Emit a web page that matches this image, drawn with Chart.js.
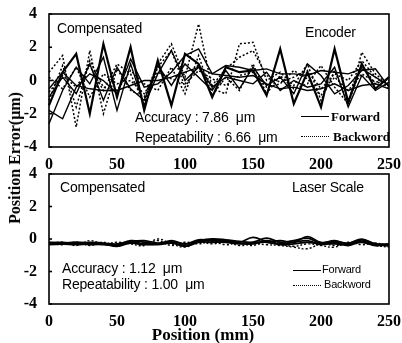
<!DOCTYPE html>
<html>
<head>
<meta charset="utf-8">
<script src="https://cdn.jsdelivr.net/npm/chart.js"></script>
<style>
  html, body { margin: 0; padding: 0; background: #fff; }
  #wrap { position: relative; width: 402px; height: 343px; overflow: hidden; background: #fff; }
  canvas { position: absolute; left: 0; }
  .t { position: absolute; white-space: nowrap; color: #000; line-height: 1; }
  .sans { font-family: "Liberation Sans", Arial, sans-serif; font-size: 14px; letter-spacing: -0.2px; }
  .serif { font-family: "Liberation Serif", "Times New Roman", serif; font-weight: bold; }
  .leg { position: absolute; height: 0; border-top: 1.5px solid #000; }
  .leg.dot { border-top: 1.5px dotted #000; }
</style>
</head>
<body>
<div id="wrap">
  <canvas id="encoder" width="402" height="172" style="top:0"></canvas>
  <canvas id="laser" width="402" height="183" style="top:160px"></canvas>

  <div class="t serif" style="font-size:16px; left:15px; top:158px; transform: translate(-50%,-50%) rotate(-90deg);">Position Error(μm)</div>
  <div class="t serif" style="font-size:17px; left:203px; top:334px; transform: translate(-50%,-50%);">Position (mm)</div>

  <!-- top panel annotations -->
  <div class="t sans" style="left:57px; top:21px;">Compensated</div>
  <div class="t sans" style="left:305px; top:25px;">Encoder</div>
  <div class="t sans" style="left:135px; top:110px;">Accuracy : 7.86&nbsp; μm</div>
  <div class="t sans" style="left:135px; top:130px;">Repeatability : 6.66&nbsp; μm</div>
  <div class="leg" style="left:301px; top:116px; width:28px;"></div>
  <div class="t serif" style="font-size:13px; left:331px; top:110px;">Forward</div>
  <div class="leg dot" style="left:301px; top:136px; width:28px;"></div>
  <div class="t serif" style="font-size:13px; left:333px; top:130px;">Backword</div>

  <!-- bottom panel annotations -->
  <div class="t sans" style="left:60px; top:180px;">Compensated</div>
  <div class="t sans" style="left:292px; top:180px;">Laser Scale</div>
  <div class="t sans" style="left:62px; top:261px;">Accuracy : 1.12&nbsp; μm</div>
  <div class="t sans" style="left:62px; top:277px;">Repeatability : 1.00&nbsp; μm</div>
  <div class="leg" style="left:293px; top:270px; width:28px;"></div>
  <div class="t sans" style="font-size:11px; left:322px; top:264px;">Forward</div>
  <div class="leg dot" style="left:293px; top:285px; width:28px;"></div>
  <div class="t sans" style="font-size:11px; left:324px; top:279px;">Backword</div>
</div>

<script>
// positions along the travel, mm
const positions = [0, 10, 20, 30, 40, 50, 60, 70, 80, 90, 100, 110, 120, 130, 140, 150, 160, 170, 180, 190, 200, 210, 220, 230, 240, 250];
const xTicks = [0, 50, 100, 150, 200, 250];
const yTicks = [-4, -2, 0, 2, 4];

// encoder-based feedback, error in um
const encF1 = [-1.5, 0.5, 1.6, -2.0, 2.2, -1.0, 2.0, -1.8, 1.2, -1.5, 1.6, 1.0, -1.0, 0.8, 0.5, 0.6, -0.9, 1.9, -1.4, 0.5, -1.6, 1.9, -1.3, 1.0, -0.5, 0.2];
const encF2 = [-1.8, -2.3, -0.4, 0.4, 0.0, -0.8, 1.3, -0.4, -0.2, 0.5, 1.5, 1.9, 0.4, 0.9, 0.8, 0.6, 0.7, 0.4, 0.4, 0.3, 0.6, 0.5, 0.4, 0.7, 0.2, -0.3];
const encF3 = [-0.5, 0.5, -0.3, -0.5, -0.6, -0.6, -0.3, 0.0, 0.0, 0.2, 0.5, 0.8, 0.4, 0.3, 0.2, 0.3, -0.2, -0.5, -0.4, -0.6, -0.5, -0.2, -0.6, -0.3, -0.2, -0.5];
const encF4 = [-1.0, 0.2, -0.8, 1.0, -1.2, 0.8, -0.5, -1.2, 0.9, -0.3, 1.0, 0.2, -0.6, 0.6, -0.5, 0.8, -0.3, 0.2, -0.8, 1.0, 0.3, -0.8, -0.3, 0.6, 0.7, -0.4];
const encF5 = [-2.6, -0.6, 0.8, -0.2, 1.4, -1.8, 1.0, -1.5, 0.4, 1.8, 0.0, 0.8, -0.4, 0.2, 0.0, -0.2, 0.5, -0.6, 0.0, -0.4, -0.2, 0.8, -1.6, 0.3, -0.6, -0.1];
const encB1 = [0.5, 1.5, -2.8, 1.8, -2.0, 0.7, -0.6, -1.0, 1.0, 2.2, 0.2, 3.4, -0.5, -0.8, 2.2, 2.3, 0.0, 0.5, -0.3, 1.0, -1.2, 0.6, -1.4, 1.7, 0.4, -0.3];
const encB2 = [0.2, -0.5, 0.8, -1.0, 0.4, -0.2, 0.0, -0.8, 0.5, 0.1, -0.2, 0.6, 0.1, -0.3, 0.3, 0.5, -0.4, -0.2, 0.6, 0.1, -0.9, 0.2, -0.6, 0.4, -0.1, 0.0];
const encB3 = [-0.7, 0.3, -0.4, 0.9, -0.6, 1.0, 0.4, -1.4, 0.8, 1.8, -0.4, 1.0, -0.3, 0.7, 1.4, 1.8, 0.3, -0.1, 0.2, 0.6, -0.5, 0.4, 0.0, 1.2, 0.2, -0.5];
const encB4 = [-1.2, 0.9, -1.6, 1.2, -0.4, -0.6, 0.6, -0.2, -0.6, 0.8, -0.8, 1.5, -0.9, 0.2, -0.6, 1.0, -0.8, 0.3, -0.5, -0.2, 0.9, -0.4, -1.4, 0.9, -0.2, 0.1];

// laser-scale feedback, error in um
const lasF1 = [-0.2, -0.25, -0.2, -0.25, -0.3, -0.35, -0.1, -0.2, -0.3, -0.1, -0.3, -0.1, 0.0, -0.05, -0.15, -0.2, 0.05, -0.2, -0.1, 0.05, -0.25, -0.1, -0.3, -0.05, -0.3, -0.3];
const lasF2 = [-0.3, -0.3, -0.35, -0.3, -0.35, -0.4, -0.2, -0.3, -0.35, -0.25, -0.4, -0.15, -0.1, -0.15, -0.25, -0.3, -0.1, -0.3, -0.2, -0.1, -0.35, -0.2, -0.4, -0.15, -0.35, -0.4];
const lasF3 = [-0.25, -0.2, -0.3, -0.2, -0.25, -0.3, -0.15, -0.1, -0.25, -0.15, -0.3, -0.05, -0.1, -0.1, -0.2, 0.1, -0.15, -0.1, -0.2, 0.15, -0.2, -0.15, -0.25, 0.0, -0.3, -0.35];
const lasF4 = [-0.35, -0.3, -0.25, -0.35, -0.3, -0.45, -0.25, -0.35, -0.3, -0.2, -0.45, -0.2, -0.2, -0.2, -0.3, -0.25, -0.2, -0.35, -0.3, -0.2, -0.3, -0.3, -0.35, -0.2, -0.4, -0.35];
const lasB1 = [-0.3, -0.2, -0.4, -0.1, -0.3, -0.2, -0.3, -0.4, 0.0, -0.3, -0.5, -0.2, -0.3, -0.2, -0.4, -0.3, -0.35, -0.4, -0.5, -0.6, -0.3, -0.4, -0.3, -0.2, -0.4, -0.5];
const lasB2 = [-0.25, -0.35, -0.2, -0.4, -0.2, -0.45, -0.1, -0.3, -0.1, -0.4, -0.2, -0.3, -0.15, -0.35, -0.2, -0.4, -0.1, -0.3, -0.45, -0.3, -0.4, -0.5, -0.2, -0.35, -0.25, -0.45];

function toPoints(values) {
    return values.map((v, i) => ({ x: positions[i], y: v }));
}

function lineSet(values, dotted, width, tension) {
    return {
        data: toPoints(values),
        borderColor: "#000",
        borderWidth: width,
        borderDash: dotted ? [2, 2] : [],
        pointRadius: 0,
        tension: tension,
        fill: false
    };
}

// frame around the plot area
const framePlugin = {
    id: "frame",
    afterDraw(chart) {
        const a = chart.chartArea;
        const ctx = chart.ctx;
        ctx.save();
        ctx.strokeStyle = "#000";
        ctx.lineWidth = 1.6;
        ctx.strokeRect(a.left, a.top, a.right - a.left, a.bottom - a.top);
        // small inward ticks on the left axis
        const ys = chart.scales.y;
        yTicks.forEach(v => {
            const py = ys.getPixelForValue(v);
            ctx.beginPath();
            ctx.moveTo(a.left, py);
            ctx.lineTo(a.left + 3, py);
            ctx.stroke();
        });
        ctx.restore();
    }
};

function makePanel(canvasId, datasets, plotBottom, canvasHeight) {
    const tickFont = { family: "'Liberation Serif', 'Times New Roman', serif", size: 16, weight: "bold" };
    return new Chart(document.getElementById(canvasId), {
        type: "line",
        data: { datasets: datasets },
        plugins: [framePlugin],
        options: {
            responsive: false,
            animation: false,
            clip: false,
            layout: { autoPadding: false, padding: { top: 14, right: 13, left: 0, bottom: 0 } },
            plugins: { legend: { display: false }, tooltip: { enabled: false } },
            scales: {
                x: {
                    type: "linear",
                    min: 0,
                    max: 250,
                    afterBuildTicks: (s) => { s.ticks = xTicks.map(v => ({ value: v })); },
                    afterFit: (s) => { s.height = canvasHeight - plotBottom; },
                    grid: { display: false },
                    border: { display: false },
                    ticks: { color: "#000", font: tickFont, padding: 0, maxRotation: 0 }
                },
                y: {
                    min: -4,
                    max: 4,
                    afterBuildTicks: (s) => { s.ticks = yTicks.map(v => ({ value: v })); },
                    afterFit: (s) => { s.width = 49; },
                    grid: { display: false },
                    border: { display: false },
                    ticks: { color: "#000", font: tickFont, padding: 4 }
                }
            }
        }
    });
}

makePanel("encoder", [
    lineSet(encF1, false, 2.2, 0),
    lineSet(encF2, false, 1.4, 0),
    lineSet(encF3, false, 1.4, 0),
    lineSet(encF4, false, 1.4, 0),
    lineSet(encF5, false, 1.4, 0),
    lineSet(encB1, true, 1.5, 0),
    lineSet(encB2, true, 1.5, 0),
    lineSet(encB3, true, 1.5, 0),
    lineSet(encB4, true, 1.5, 0)
], 147, 172);

makePanel("laser", [
    lineSet(lasF1, false, 1.8, 0.4),
    lineSet(lasF2, false, 1.8, 0.4),
    lineSet(lasF3, false, 1.6, 0.4),
    lineSet(lasF4, false, 1.8, 0.4),
    lineSet(lasB1, true, 1.4, 0.4),
    lineSet(lasB2, true, 1.4, 0.4)
], 144, 183);
</script>
</body>
</html>
